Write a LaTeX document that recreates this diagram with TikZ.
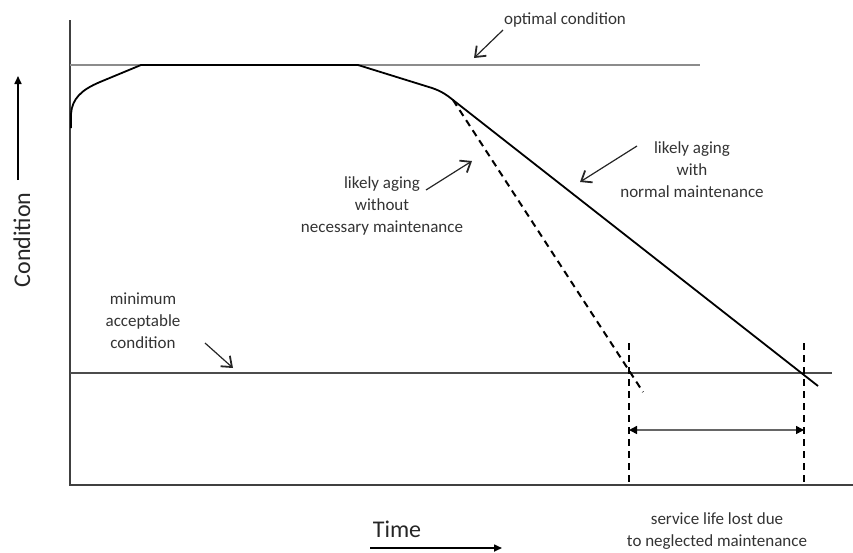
\documentclass[tikz,border=0pt]{standalone}
\usepackage{fontspec}
\setmainfont{Carlito}
\usetikzlibrary{arrows.meta}
\begin{document}
\begin{tikzpicture}[x=1pt,y=-1pt,
  axis/.style={line width=1.6pt,draw=black!75},
  refline/.style={line width=1.5pt,draw=black!45},
  minline/.style={line width=1.4pt,draw=black!70},
  agecurve/.style={line width=1.8pt,draw=black,line join=round},
  guide/.style={line width=2pt,draw=black,dash pattern=on 7pt off 5pt},
  pointer/.style={line width=1.2pt,draw=black!85,-{Straight Barb[length=9pt,width=14pt,line width=1.8pt]}},
  spantip/.tip={Triangle[length=8pt,width=8pt,color=black]},
  lbl/.style={font=\fontsize{17}{22}\selectfont,text=black!80,align=center,inner sep=0pt},
  big/.style={font=\fontsize{24}{28}\selectfont,text=black!85,inner sep=0pt}]
\useasboundingbox (0,0) rectangle (853,552);

% axes
\coordinate (origin) at (70,485);
\coordinate (ytop) at (70,20);
\coordinate (xend) at (853,485);
\draw[axis] (ytop) -- (origin) -- (xend);

% reference levels
\coordinate (optL) at (70,65);
\coordinate (optR) at (700,65);
\draw[refline] (optL) -- (optR);
\coordinate (minL) at (70,373);
\coordinate (minR) at (832,373);
\draw[minline] (minL) -- (minR);

% condition curve
\coordinate (knee) at (453,100);
\coordinate (endN) at (818,386);
\coordinate (endD) at (643,392);
\draw[agecurve] (71,128) -- (71,114) .. controls (72,99) and (81,90) .. (100,82)
  -- (141,65) -- (358,65) -- (432,88) .. controls (441,91) and (447,95) .. (knee) -- (endN);
\draw[guide] (knee) -- (endD);

% end-of-life markers
\coordinate (lostA) at (629,343);
\coordinate (lostAb) at (629,485);
\coordinate (lostB) at (804,343);
\coordinate (lostBb) at (804,485);
\draw[guide] (lostA) -- (lostAb);
\draw[guide] (lostB) -- (lostBb);
\coordinate (spanA) at (629,430);
\coordinate (spanB) at (804,430);
\draw[line width=1.5pt,draw=black!60,spantip-spantip] (spanA) -- (spanB);

% axis titles
\node[big,rotate=90] (cond) at (22,240) {Condition};
\coordinate (upA) at (18,180);
\coordinate (upB) at (18,76);
\draw[line width=1.6pt,-{Triangle[length=8pt,width=7pt]}] (upA) -- (upB);
\node[big] (time) at (397,529) {Time};
\coordinate (rtA) at (370,548);
\coordinate (rtB) at (502,548);
\draw[line width=1.6pt,-{Triangle[length=8pt,width=7pt]}] (rtA) -- (rtB);

% labels with pointers
\node[lbl] (opt) at (565,20) {optimal condition};
\coordinate (optTip) at (474,58);
\draw[pointer] (503,30) -- (optTip);

\node[lbl] (norm) at (692,170) {likely aging\\with\\normal maintenance};
\coordinate (normTip) at (580,182);
\draw[pointer] (637,146) -- (normTip);

\node[lbl] (neg) at (382,206) {likely aging\\without\\necessary maintenance};
\coordinate (negTip) at (472,161);
\draw[pointer] (426,190) -- (negTip);

\node[lbl] (minimum) at (143,321) {minimum\\acceptable\\condition};
\coordinate (minTip) at (233,368);
\draw[pointer] (205,343) -- (minTip);

\node[lbl] (lost) at (717,531) {service life lost due\\to neglected maintenance};
\end{tikzpicture}
\end{document}
